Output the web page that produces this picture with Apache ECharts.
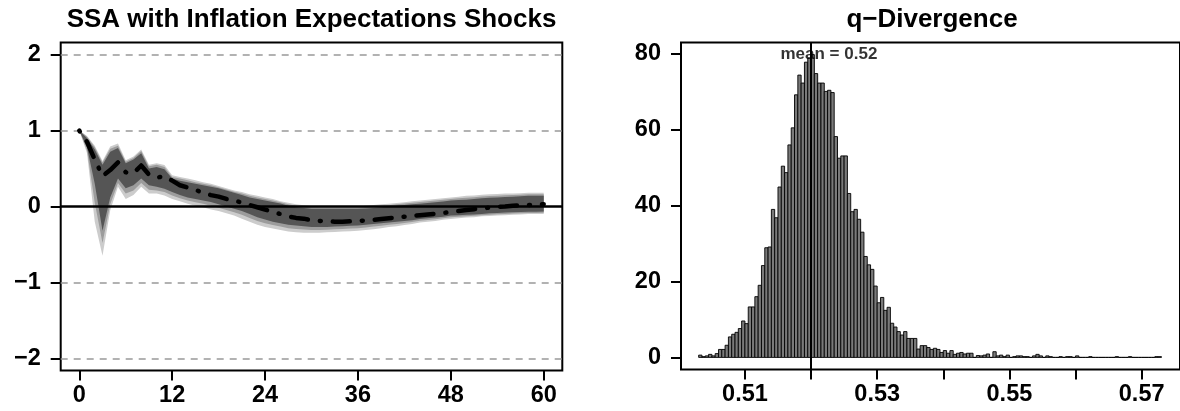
<!DOCTYPE html>
<html>
<head>
<meta charset="utf-8">
<script src="https://cdn.jsdelivr.net/npm/echarts@6/dist/echarts.min.js"></script>
<style>
  html, body { margin: 0; padding: 0; background: #fff; }
  #chart { width: 1180px; height: 411px; }
</style>
</head>
<body>
<div id="chart"></div>
<script>
// ---------------- Left panel: impulse response with bands ----------------
const leftTitle = 'SSA with Inflation Expectations Shocks';
const horizon = [0,1,2,3,4,5,6,7,8,9,10,11,12,13,14,15,16,17,18,19,20,21,22,23,24,25,26,27,28,29,30,
  31,32,33,34,35,36,37,38,39,40,41,42,43,44,45,46,47,48,49,50,51,52,53,54,55,56,57,58,59,60];
const irfMedian = [1.00,0.85,0.62,0.40,0.48,0.58,0.45,0.44,0.54,0.42,0.38,0.40,0.34,0.28,0.25,0.22,0.18,0.15,0.13,0.10,0.08,
  0.05,0.02,-0.01,-0.04,-0.07,-0.10,-0.13,-0.15,-0.16,-0.18,-0.19,-0.195,-0.20,-0.20,-0.195,-0.19,-0.185,-0.175,-0.165,-0.155,
  -0.145,-0.135,-0.125,-0.115,-0.105,-0.095,-0.085,-0.07,-0.06,-0.045,-0.035,-0.025,-0.015,-0.005,0.00,0.01,0.015,0.02,0.025,0.03];
// inner (dark) band
const innerUpper = [1.0,0.90,0.75,0.55,0.72,0.77,0.57,0.62,0.70,0.50,0.52,0.49,0.37,0.34,0.32,0.30,0.28,0.26,0.24,0.21,0.18,
  0.15,0.12,0.10,0.08,0.06,0.04,0.01,-0.01,-0.02,-0.03,-0.03,-0.03,-0.03,-0.03,-0.03,-0.03,-0.025,-0.02,-0.01,0.00,
  0.01,0.02,0.03,0.035,0.045,0.055,0.065,0.08,0.085,0.09,0.10,0.11,0.115,0.12,0.125,0.13,0.135,0.14,0.14,0.14];
const innerLower = [1.0,0.78,0.30,-0.32,0.12,0.37,0.24,0.28,0.37,0.28,0.26,0.235,0.19,0.15,0.12,0.10,0.08,0.06,0.03,0.00,-0.03,
  -0.06,-0.10,-0.14,-0.17,-0.20,-0.22,-0.24,-0.25,-0.26,-0.27,-0.27,-0.27,-0.265,-0.26,-0.255,-0.25,-0.24,-0.23,-0.22,-0.21,
  -0.20,-0.19,-0.18,-0.165,-0.155,-0.145,-0.135,-0.12,-0.115,-0.11,-0.105,-0.10,-0.09,-0.085,-0.08,-0.075,-0.072,-0.07,-0.068,-0.066];
// middle band
const middleUpper = [1.0,0.92,0.78,0.58,0.76,0.80,0.59,0.64,0.73,0.53,0.55,0.52,0.39,0.37,0.345,0.32,0.30,0.28,0.255,0.225,0.195,
  0.17,0.14,0.12,0.10,0.08,0.055,0.03,0.01,-0.003,-0.012,-0.015,-0.015,-0.015,-0.015,-0.015,-0.015,-0.008,0.0,0.01,0.018,
  0.028,0.038,0.05,0.058,0.068,0.078,0.088,0.10,0.108,0.115,0.122,0.132,0.138,0.143,0.148,0.15,0.155,0.16,0.16,0.16];
const middleLower = [1.0,0.74,0.05,-0.48,0.03,0.31,0.17,0.21,0.31,0.22,0.21,0.19,0.145,0.11,0.078,0.055,0.035,0.01,-0.015,-0.045,-0.075,
  -0.11,-0.15,-0.19,-0.22,-0.245,-0.265,-0.285,-0.295,-0.302,-0.308,-0.308,-0.305,-0.30,-0.295,-0.29,-0.285,-0.275,-0.265,-0.252,-0.24,
  -0.23,-0.218,-0.205,-0.188,-0.178,-0.168,-0.155,-0.142,-0.135,-0.128,-0.122,-0.115,-0.108,-0.102,-0.098,-0.092,-0.088,-0.085,-0.084,-0.083];
// outer (light) band
const outerUpper = [1.0,0.93,0.80,0.60,0.79,0.83,0.61,0.66,0.75,0.55,0.57,0.545,0.41,0.39,0.37,0.345,0.32,0.30,0.27,0.24,0.21,
  0.19,0.16,0.14,0.12,0.10,0.07,0.05,0.03,0.015,0.005,0.0,0.0,0.0,0.0,0.0,0.0,0.01,0.02,0.03,0.035,
  0.045,0.055,0.07,0.08,0.09,0.10,0.11,0.12,0.13,0.14,0.145,0.155,0.16,0.165,0.17,0.17,0.175,0.18,0.18,0.18];
const outerLower = [1.0,0.70,-0.20,-0.65,-0.05,0.26,0.10,0.15,0.26,0.17,0.17,0.146,0.10,0.07,0.035,0.01,-0.01,-0.04,-0.06,-0.09,-0.12,
  -0.16,-0.20,-0.24,-0.27,-0.29,-0.31,-0.33,-0.34,-0.345,-0.345,-0.345,-0.34,-0.335,-0.33,-0.325,-0.32,-0.31,-0.30,-0.285,-0.27,
  -0.26,-0.245,-0.23,-0.21,-0.20,-0.19,-0.175,-0.165,-0.155,-0.145,-0.14,-0.13,-0.125,-0.12,-0.115,-0.11,-0.105,-0.10,-0.10,-0.10];
const leftXTicks = [0,12,24,36,48,60];
const leftYTicks = [-2,-1,0,1,2];
const leftRefLines = [-2,-1,1,2];
const leftZeroLine = [0];

// ---------------- Right panel: histogram ----------------
const rightTitle = 'q\u2212Divergence';
const histBinStart = 0.503;
const histBinWidth = 0.0005;
const histDensity = [
  0.6,0.2,0.4,0.8,0.4,1.0,2.1,2.1,3.2,5.4,
  6.1,6.6,7.6,9.6,8.9,13.3,13.3,16.0,19.0,24.2,
  28.9,29.1,39.0,36.8,44.9,50.4,48.7,56.0,60.5,69.2,
  74.4,72.3,77.8,78.9,79.8,74.8,72.3,72.3,70.1,70.4,
  69.8,58.2,52.5,53.1,53.1,43.2,38.4,39.0,36.4,33.0,
  26.6,24.4,23.2,18.8,14.4,15.8,12.4,13.2,9.0,8.0,
  6.8,5.9,6.8,5.0,5.0,5.0,2.2,3.1,3.1,2.6,
  2.1,2.4,2.1,1.3,1.8,1.1,1.8,0.8,1.1,1.3,
  0.9,1.1,1.1,0.0,0.5,0.4,0.6,0.9,0.0,1.5,
  0.4,0.6,0.2,0.6,0.0,0.2,0.4,0.4,0.2,0.2,
  0.0,0.4,0.8,0.4,0.0,0.4,0.2,0.0,0.0,0.2,
  0.0,0.2,0.2,0.0,0.4,0.0,0.0,0.0,0.2,0.0,
  0.0,0.0,0.0,0.0,0.0,0.0,0.2,0.0,0.0,0.0,
  0.2,0.0,0.0,0.0,0.0,0.0,0.0,0.0,0.2,0.2];
const histMean = 0.5214;
const meanLabel = 'mean = 0.52';
const meanLabelPos = [0.5227, 80];
const rightXTicks = [0.51,0.52,0.53,0.54,0.55,0.56,0.57];
const rightXLabels = [0.51,0.53,0.55,0.57];
const rightYTicks = [0,20,40,60,80];

// ---------------- Build chart ----------------
const FONT = '"Liberation Sans", Arial, Helvetica, sans-serif';
const chart = echarts.init(document.getElementById('chart'), null, {renderer: 'canvas'});

function fmtMinus(v) { return v < 0 ? '\u2212' + Math.abs(v) : String(v); }

function bandSeries(lower, upper, color, z) {
  return {
    type: 'custom', xAxisIndex: 0, yAxisIndex: 0, z: z, silent: true,
    data: horizon.map((h, i) => [h, lower[i], upper[i]]),
    encode: {x: 0, y: [1, 2]},
    renderItem: function (params, api) {
      if (params.dataIndex !== 0) return null;
      const pts = [];
      for (let i = 0; i < horizon.length; i++) pts.push(api.coord([horizon[i], upper[i]]));
      for (let i = horizon.length - 1; i >= 0; i--) pts.push(api.coord([horizon[i], lower[i]]));
      return {type: 'polygon', shape: {points: pts}, style: {fill: color, stroke: null}};
    }
  };
}

const axisLabelStyle = {fontFamily: FONT, fontWeight: 'bold', fontSize: 23.5, color: '#000'};
const tickStyle = {show: true, inside: false, length: 10, lineStyle: {color: '#000', width: 2}};
const noLine = {show: false, onZero: false};

const option = {
  animation: false,
  backgroundColor: '#fff',
  grid: [
    {left: 60.7, right: 617.7, top: 42.5, bottom: 40.5, show: true, borderColor: '#000', borderWidth: 2, backgroundColor: 'transparent'},
    {left: 681, right: -4.4, top: 42.5, bottom: 41.5, show: true, borderColor: '#000', borderWidth: 2, backgroundColor: 'transparent'}
  ],
  xAxis: [
    {type: 'value', gridIndex: 0, min: -2.4, max: 62.4,
     axisLine: noLine, splitLine: {show: false},
     axisTick: Object.assign({customValues: leftXTicks}, tickStyle),
     axisLabel: Object.assign({customValues: leftXTicks, margin: 13}, axisLabelStyle)},
    {type: 'value', gridIndex: 1, min: 0.50033, max: 0.5758,
     axisLine: noLine, splitLine: {show: false},
     axisTick: Object.assign({customValues: rightXTicks}, tickStyle),
     axisLabel: Object.assign({customValues: rightXLabels, margin: 13}, axisLabelStyle)}
  ],
  yAxis: [
    {type: 'value', gridIndex: 0, min: -2.16, max: 2.16,
     axisLine: noLine, splitLine: {show: false},
     axisTick: Object.assign({customValues: leftYTicks}, tickStyle),
     axisLabel: Object.assign({customValues: leftYTicks, margin: 20, formatter: fmtMinus}, axisLabelStyle)},
    {type: 'value', gridIndex: 1, min: -3.19, max: 82.99,
     axisLine: noLine, splitLine: {show: false},
     axisTick: Object.assign({customValues: rightYTicks}, tickStyle),
     axisLabel: Object.assign({customValues: rightYTicks, margin: 20}, axisLabelStyle)}
  ],
  graphic: [
    {type: 'text', x: 311.5, y: 19.5, silent: true,
     style: {text: leftTitle, font: 'bold 26px ' + FONT, fill: '#000', align: 'center', verticalAlign: 'middle'}},
    {type: 'text', x: 932, y: 19.5, silent: true,
     style: {text: rightTitle, font: 'bold 26px ' + FONT, fill: '#000', align: 'center', verticalAlign: 'middle'}}
  ],
  series: [
    // dashed reference lines
    {type: 'line', xAxisIndex: 0, yAxisIndex: 0, data: [], z: 1, silent: true,
     markLine: {silent: true, symbol: ['none', 'none'], label: {show: false},
       lineStyle: {color: '#999999', width: 1.6, type: [7, 6]},
       data: leftRefLines.map(v => ({yAxis: v}))}},
    bandSeries(outerLower, outerUpper, '#cccccc', 2),
    bandSeries(middleLower, middleUpper, '#9c9c9c', 3),
    bandSeries(innerLower, innerUpper, '#555555', 4),
    // zero line
    {type: 'line', xAxisIndex: 0, yAxisIndex: 0, data: [], z: 5, silent: true,
     markLine: {silent: true, symbol: ['none', 'none'], label: {show: false},
       lineStyle: {color: '#000', width: 2.5, type: 'solid'},
       data: leftZeroLine.map(v => ({yAxis: v}))}},
    // median IRF
    {type: 'line', xAxisIndex: 0, yAxisIndex: 0, z: 6, silent: true,
     data: horizon.map((h, i) => [h, irfMedian[i]]),
     showSymbol: false, symbol: 'none',
     lineStyle: {color: '#000', width: 4.5, type: [1, 12, 17, 12], cap: 'round', join: 'round'}},
    // histogram
    {type: 'custom', xAxisIndex: 1, yAxisIndex: 1, z: 2, silent: true,
     data: histDensity.map((d, i) => [histBinStart + i * histBinWidth, histBinStart + (i + 1) * histBinWidth, d]),
     encode: {x: [0, 1], y: 2},
     renderItem: function (params, api) {
       const p0 = api.coord([api.value(0), api.value(2)]);
       const p1 = api.coord([api.value(1), 0]);
       return {type: 'rect',
         shape: {x: p0[0], y: p0[1], width: p1[0] - p0[0], height: p1[1] - p0[1]},
         style: {fill: '#7a7a7a', stroke: '#000', lineWidth: 0.9}};
     }},
    // mean line
    {type: 'line', xAxisIndex: 1, yAxisIndex: 1, data: [], z: 4, silent: true,
     markLine: {silent: true, symbol: ['none', 'none'], label: {show: false},
       lineStyle: {color: '#000', width: 2, type: 'solid'},
       data: [{xAxis: histMean}]}},
    // mean label
    {type: 'scatter', xAxisIndex: 1, yAxisIndex: 1, z: 5, silent: true,
     symbolSize: 0, data: [meanLabelPos],
     label: {show: true, position: 'inside', formatter: meanLabel,
       fontFamily: FONT, fontWeight: 'bold', fontSize: 17, color: '#000'}}
  ]
};
chart.setOption(option);
</script>
</body>
</html>
